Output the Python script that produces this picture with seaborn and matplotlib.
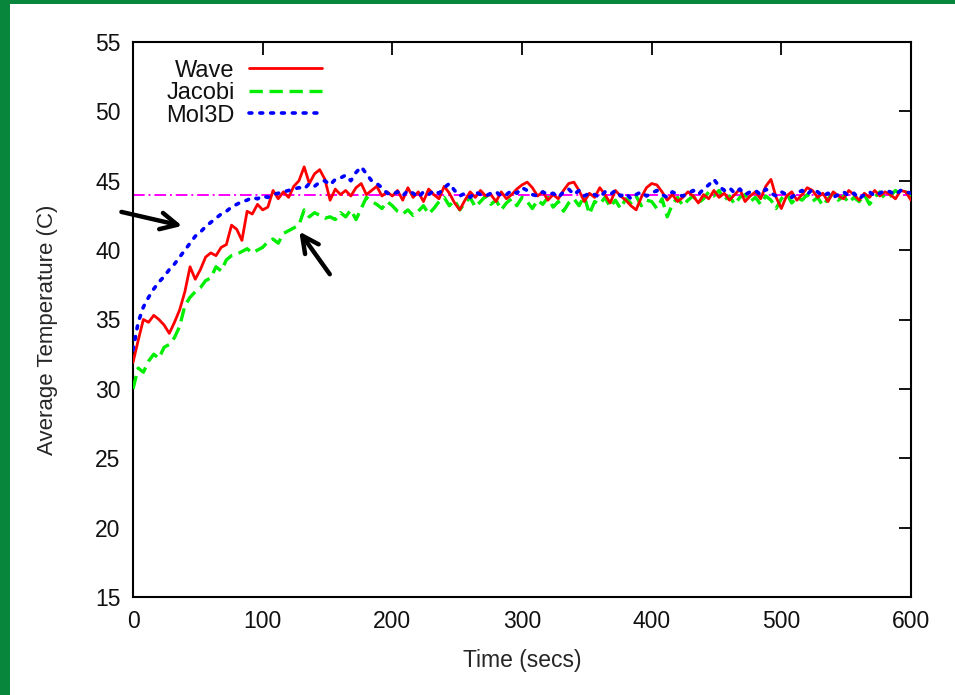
import numpy as np
import pandas as pd
import matplotlib
matplotlib.use("Agg")
import matplotlib.pyplot as plt
import seaborn as sns
from matplotlib.patches import Rectangle
from matplotlib.lines import Line2D

# ---------------- data ----------------
time_s = np.arange(0, 601, 4)  # seconds, 151 samples

wave = [
    31.9, 33.5, 35.0, 34.8, 35.3, 35.0, 34.6, 34.0, 34.8, 35.7,
    37.0, 38.8, 37.9, 38.6, 39.5, 39.8, 39.6, 40.2, 40.4, 41.8,
    41.5, 40.7, 42.8, 42.6, 43.3, 42.9, 43.1, 44.3, 43.7, 44.2,
    43.8, 44.6, 45.0, 46.0, 44.8, 45.5, 45.8, 45.1, 43.6, 44.4,
    44.0, 44.3, 43.9, 44.5, 44.8, 44.0, 44.3, 44.6, 43.9, 44.2,
    43.9, 44.3, 43.6, 44.5, 43.8, 44.2, 43.5, 44.4, 44.0, 43.7,
    44.6, 44.1, 43.4, 42.9, 43.6, 44.2, 43.8, 44.3, 43.9, 44.0,
    43.5, 44.2, 43.7, 44.0, 44.4, 44.7, 44.9, 44.5, 43.9, 44.2,
    43.6, 44.0, 43.7, 44.3, 44.8, 44.9, 44.3, 43.5, 44.1, 43.8,
    44.5, 44.0, 43.4, 44.3, 43.9, 43.6, 43.2, 42.9, 43.8, 44.5,
    44.8, 44.7, 44.2, 43.6, 44.0, 43.5, 43.8, 44.2, 43.9, 43.4,
    44.0, 43.7, 44.3, 43.8, 44.1, 43.6, 44.0, 44.4, 43.5, 43.9,
    44.2, 43.7, 44.6, 45.1, 43.8, 43.0, 43.9, 44.2, 43.6, 44.0,
    44.5, 44.3, 43.8, 44.1, 43.5, 44.2, 43.9, 43.7, 44.3, 44.0,
    43.6, 44.1, 43.8, 44.3, 43.9, 44.2, 44.0, 43.7, 44.3, 44.2,
    43.6,
]

jacobi = [
    30.0, 31.5, 31.2, 32.0, 32.5, 32.2, 33.0, 33.2, 33.7, 34.5,
    36.0, 36.6, 37.0, 37.3, 37.8, 38.0, 38.8, 38.5, 39.3, 39.6,
    39.7, 39.9, 40.1, 39.8, 40.0, 40.2, 40.6, 40.8, 40.5, 41.2,
    41.4, 41.6, 41.8, 42.9, 42.4, 42.7, 42.5, 42.3, 42.4, 42.2,
    42.7, 42.4, 42.9, 42.2, 43.0, 43.8, 43.5, 43.3, 43.0, 43.5,
    43.2, 42.8, 42.6, 42.9, 42.5, 42.8, 43.2, 42.6, 43.0, 43.5,
    43.8, 43.2, 43.6, 42.9, 43.4, 43.8, 43.1, 43.5, 43.9, 43.3,
    43.6, 42.9, 43.4, 43.7, 43.2, 43.8, 43.5, 43.0, 43.6, 43.3,
    43.8, 43.1, 43.5, 42.8, 43.4, 43.7, 43.2, 43.9, 42.6, 43.5,
    43.3, 43.8, 43.1, 43.6, 43.0, 43.7, 43.4, 43.9, 43.2, 43.6,
    43.5, 43.0, 43.7, 42.4, 43.3, 43.8, 43.2, 43.6, 43.9, 43.4,
    43.7, 44.2, 43.9, 44.3, 43.6, 43.9, 43.3, 43.8, 44.0, 43.5,
    43.8, 43.3, 43.9, 43.6, 43.0, 43.7, 44.1, 43.4, 43.8, 43.6,
    44.0, 43.5, 43.8, 43.2, 43.7, 44.1, 43.6, 43.9, 43.4, 43.8,
    43.5, 44.0, 43.3, 43.8, 44.2, 43.7, 43.9, 44.3, 44.0, 44.2,
    43.9,
]

mol3d = [
    32.8, 34.8, 35.9, 36.6, 37.2, 37.7, 38.1, 38.6, 39.0, 39.5,
    40.0, 40.5, 41.0, 41.3, 41.7, 42.0, 42.3, 42.6, 42.8, 43.1,
    43.3, 43.5, 43.6, 43.8, 43.7, 43.9, 43.8, 44.0, 44.1, 44.2,
    44.3, 44.4, 44.5, 44.4, 44.8, 44.6, 44.9, 45.0, 44.7, 45.1,
    45.2, 45.4, 45.0, 45.6, 46.0, 45.5, 45.0, 44.8, 44.5, 44.1,
    44.0, 44.2, 43.9, 44.3, 44.1, 43.8, 44.2, 44.0, 44.3, 44.1,
    44.5, 44.8, 44.3, 43.9, 44.1, 43.8, 44.2, 44.0, 43.9, 44.1,
    44.2, 43.9, 44.0, 44.3, 44.1, 44.5, 44.3, 44.0, 43.9, 44.2,
    44.0, 44.1, 43.8, 44.2, 44.4, 44.0, 44.3, 43.9, 44.1, 44.0,
    43.8, 44.2, 44.0, 44.3, 43.9, 44.1, 43.7, 44.0, 44.2, 43.9,
    44.1, 44.3, 44.0, 43.8, 44.2, 44.0, 43.9, 44.1, 44.3, 44.0,
    44.4, 44.7, 45.1, 44.6, 44.3, 44.5, 44.1, 44.4, 44.0, 44.2,
    44.3, 44.0, 44.4, 44.1, 43.9, 44.2, 44.0, 43.8, 44.1, 44.3,
    44.0, 44.4, 44.2, 43.9, 44.1, 43.8, 44.0, 44.2, 43.9, 44.1,
    43.7, 44.0, 44.2, 43.9, 44.1, 44.3, 44.2, 44.0, 44.3, 44.2,
    44.1,
]

threshold_c = 44.0
series_names = ["Wave", "Jacobi", "Mol3D"]
x_ticks = [0, 100, 200, 300, 400, 500, 600]
y_ticks = [15, 20, 25, 30, 35, 40, 45, 50, 55]

# ---------------- figure ----------------
sns.set_style("white")
plt.rcParams["font.family"] = ["Liberation Sans", "DejaVu Sans"]
plt.rcParams["text.color"] = "#111111"

fig = plt.figure(figsize=(9.55, 6.95), dpi=100)
green = "#08873c"
fig.patches.append(Rectangle((0, 0), 10 / 955, 1, transform=fig.transFigure,
                             facecolor=green, edgecolor="none", zorder=0))
fig.patches.append(Rectangle((0, 1 - 4 / 695), 1, 4 / 695, transform=fig.transFigure,
                             facecolor=green, edgecolor="none", zorder=0))

ax = fig.add_axes([133 / 955, 1 - 597 / 695, (911 - 133) / 955, (597 - 42) / 695])

styles = {
    "Wave": dict(color="#ff0000", linestyle="-", linewidth=2.0),
    "Jacobi": dict(color="#00ee00", linestyle=(0, (4, 2)), linewidth=2.4),
    "Mol3D": dict(color="#0000ff", linestyle=(0, (0.8, 2.2)), linewidth=2.6,
                  dash_capstyle="round"),
}
data = {"Wave": wave, "Jacobi": jacobi, "Mol3D": mol3d}

# magenta reference line
sns.lineplot(x=[time_s[0], time_s[-1]], y=[threshold_c, threshold_c], ax=ax,
             color="#ff00ff", linestyle=(0, (6, 2, 1, 2)), linewidth=1.4,
             zorder=1, legend=False)

for name in ["Jacobi", "Wave", "Mol3D"]:
    df = pd.DataFrame({"Time": time_s, "Temp": data[name]})
    sns.lineplot(data=df, x="Time", y="Temp", ax=ax, legend=False,
                 estimator=None, zorder=3, **styles[name])
handles = [Line2D([], [], **styles[name]) for name in series_names]

ax.set_xlim(0, 600)
ax.set_ylim(15, 55)
ax.set_xticks(x_ticks)
ax.set_yticks(y_ticks)
ax.tick_params(direction="in", top=True, right=True, length=9, width=1.3,
               labelsize=16.5, pad=9, colors="black", labelcolor="#111111")
for s in ax.spines.values():
    s.set_visible(True)
    s.set_color("black")
    s.set_linewidth(1.5)

ax.set_xlabel("Time (secs)", fontsize=16.5, labelpad=12)
ax.set_ylabel("Average Temperature (C)", fontsize=16)
ax.yaxis.set_label_coords(-0.097, 0.482)

leg = ax.legend(handles, series_names, loc="upper right",
                bbox_to_anchor=(0.243, 0.968), frameon=False, markerfirst=False,
                handlelength=3.1, handletextpad=0.6, labelspacing=0.02,
                borderaxespad=0, borderpad=0, fontsize=17)

arrow = dict(arrowstyle="->", color="black", lw=3.2, mutation_scale=30)
ax.annotate("", xy=(40, 41.7), xytext=(-11, 42.8), arrowprops=arrow,
            annotation_clip=False)
ax.annotate("", xy=(127, 41.5), xytext=(153, 38.1), arrowprops=arrow,
            annotation_clip=False)

fig.savefig("out.png", dpi=100, facecolor="white")
